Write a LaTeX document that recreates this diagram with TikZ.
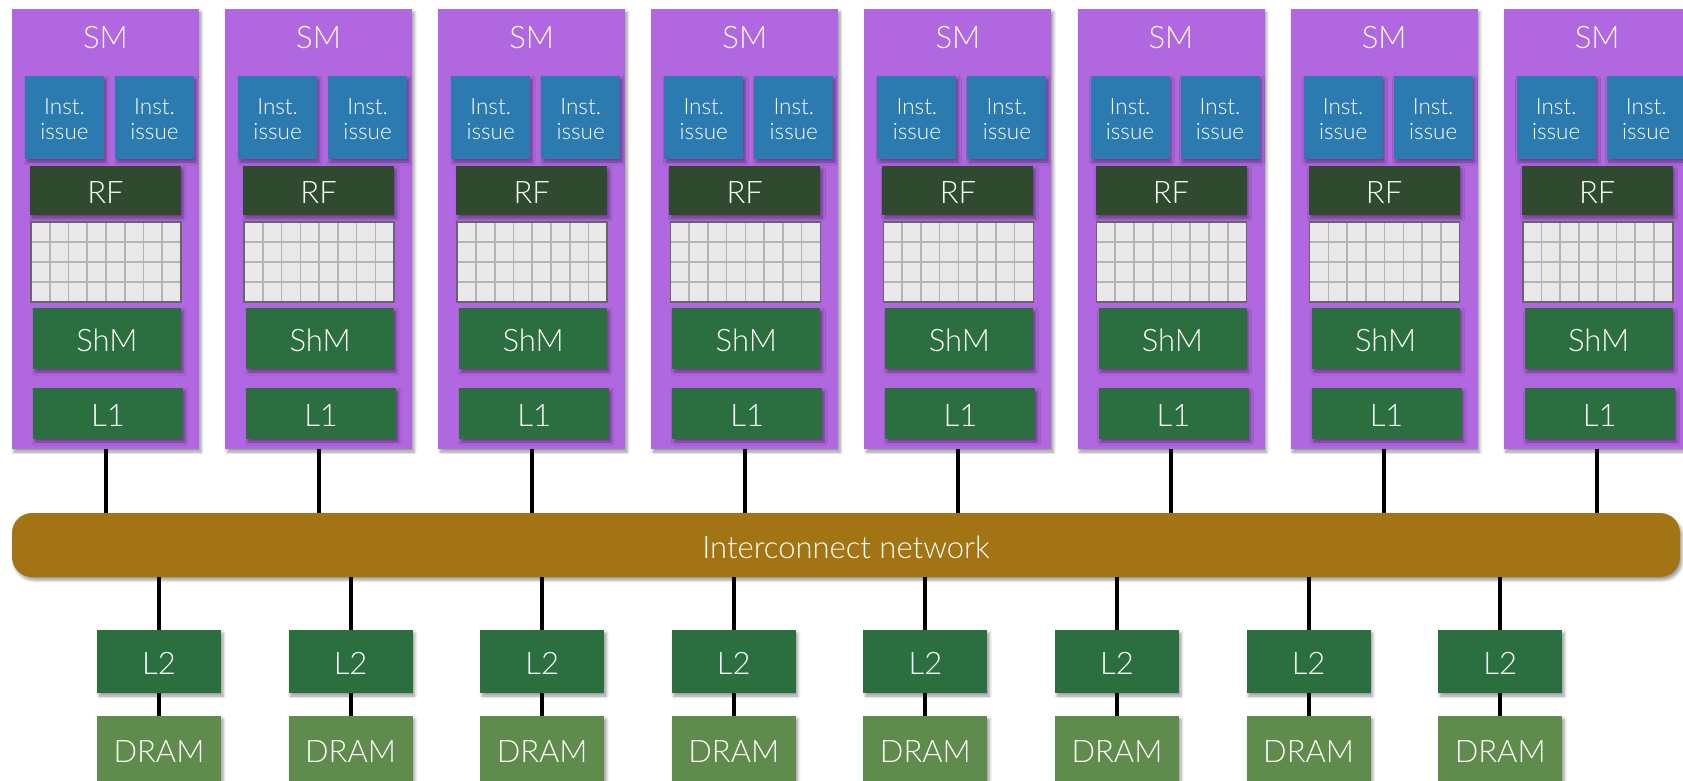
\documentclass[tikz,border=0pt]{standalone}
\usepackage{fontspec}
\setmainfont{Lato}[UprightFont=* Light]
\usetikzlibrary{shadows.blur}

\definecolor{smpurple}{HTML}{B067E0}
\definecolor{instblue}{HTML}{2C7BB0}
\definecolor{rfgreen}{HTML}{2F4A2F}
\definecolor{cachegreen}{HTML}{2B6E40}
\definecolor{dramgreen}{HTML}{5F8C4C}
\definecolor{netbrown}{HTML}{A37414}
\definecolor{gridfill}{HTML}{E9E9E9}
\definecolor{gridline}{HTML}{B4B4B4}
\definecolor{gridborder}{HTML}{666666}

% a line of text drawn slightly lower without changing its box
\newcommand\droppedline[1]{\raisebox{-2pt}[\height][\depth]{#1}}

\begin{document}
\begin{tikzpicture}[x=1pt,y=-1pt,
  shade/.style={blur shadow={shadow xshift=2pt,shadow yshift=-3pt,shadow blur radius=3pt}},
  box/.style={inner sep=0pt,outer sep=0pt,anchor=north west,text=white,
    font=\fontsize{31}{36}\selectfont,text height=26pt,text depth=0pt},
  smbox/.style={box,fill=smpurple,shade,minimum width=187pt,minimum height=440pt},
  smlabel/.style={text=white,inner sep=0pt,font=\fontsize{31}{36}\selectfont},
  instbox/.style={inner sep=0pt,outer sep=0pt,anchor=north west,text=white,
    fill=instblue,shade,minimum width=79pt,minimum height=83pt,
    align=center,font=\fontsize{22.5}{25}\selectfont},
  rfbox/.style={box,fill=rfgreen,shade,minimum width=151pt,minimum height=49pt},
  cachebox/.style={box,fill=cachegreen,shade},
  drambox/.style={box,fill=dramgreen,shade,anchor=north,minimum width=124pt,minimum height=67pt},
  netbox/.style={box,fill=netbrown,shade,rounded corners=20pt,minimum width=1668pt,minimum height=64pt},
  wire/.style={line width=4pt,black},
  gridcell/.style={line width=1.6pt,draw=gridline},
  gridframe/.style={line width=1.6pt,draw=gridborder}
]
\useasboundingbox (0,0) rectangle (1683,780);
\clip (0,0) rectangle (1683,780);

% interconnect band
\node[netbox] (net) at (12,513) {Interconnect network};

% streaming multiprocessors
\foreach \k in {0,...,7}{
  \pgfmathsetmacro\xo{12+213.1*\k}
  \draw[wire] (\xo+93.5,440) coordinate (top\k) -- (top\k |- net.north);
  \node[smbox] (sm\k) at (\xo,9) {};
  \node[smlabel] (smt\k) at (\xo+93.5,38) {SM};
  \node[instbox] (ia\k) at (\xo+13,76) {\droppedline{Inst.}\\\droppedline{issue}};
  \node[instbox] (ib\k) at (\xo+103,76) {\droppedline{Inst.}\\\droppedline{issue}};
  \node[rfbox] (rf\k) at (\xo+18,166) {RF};
  % register file cells
  \fill[gridfill] (\xo+19,222) rectangle ++(150,80);
  \foreach \c in {1,...,7}
    \draw[gridcell] (\xo+19+18.75*\c,222) -- ++(0,80);
  \foreach \r in {1,2,3}
    \draw[gridcell] (\xo+19,222+20*\r) -- ++(150,0);
  \draw[gridframe] (\xo+19,222) rectangle ++(150,80);
  \node[cachebox,minimum width=148pt,minimum height=61pt] (shm\k) at (\xo+21,308) {ShM};
  \node[cachebox,minimum width=150pt,minimum height=51pt] (lone\k) at (\xo+21,388) {L1};
}

% memory partitions
\foreach \k in {0,...,7}{
  \pgfmathsetmacro\xl{159+191.6*\k}
  \node[cachebox,anchor=north,minimum width=124pt,minimum height=63pt] (ltwo\k) at (\xl,630) {L2};
  \node[drambox] (dram\k) at (\xl,716) {DRAM};
  \draw[wire] (ltwo\k.north |- net.south) -- (ltwo\k.north);
  \draw[wire] (ltwo\k.south) -- (dram\k.north);
}
\end{tikzpicture}
\end{document}
